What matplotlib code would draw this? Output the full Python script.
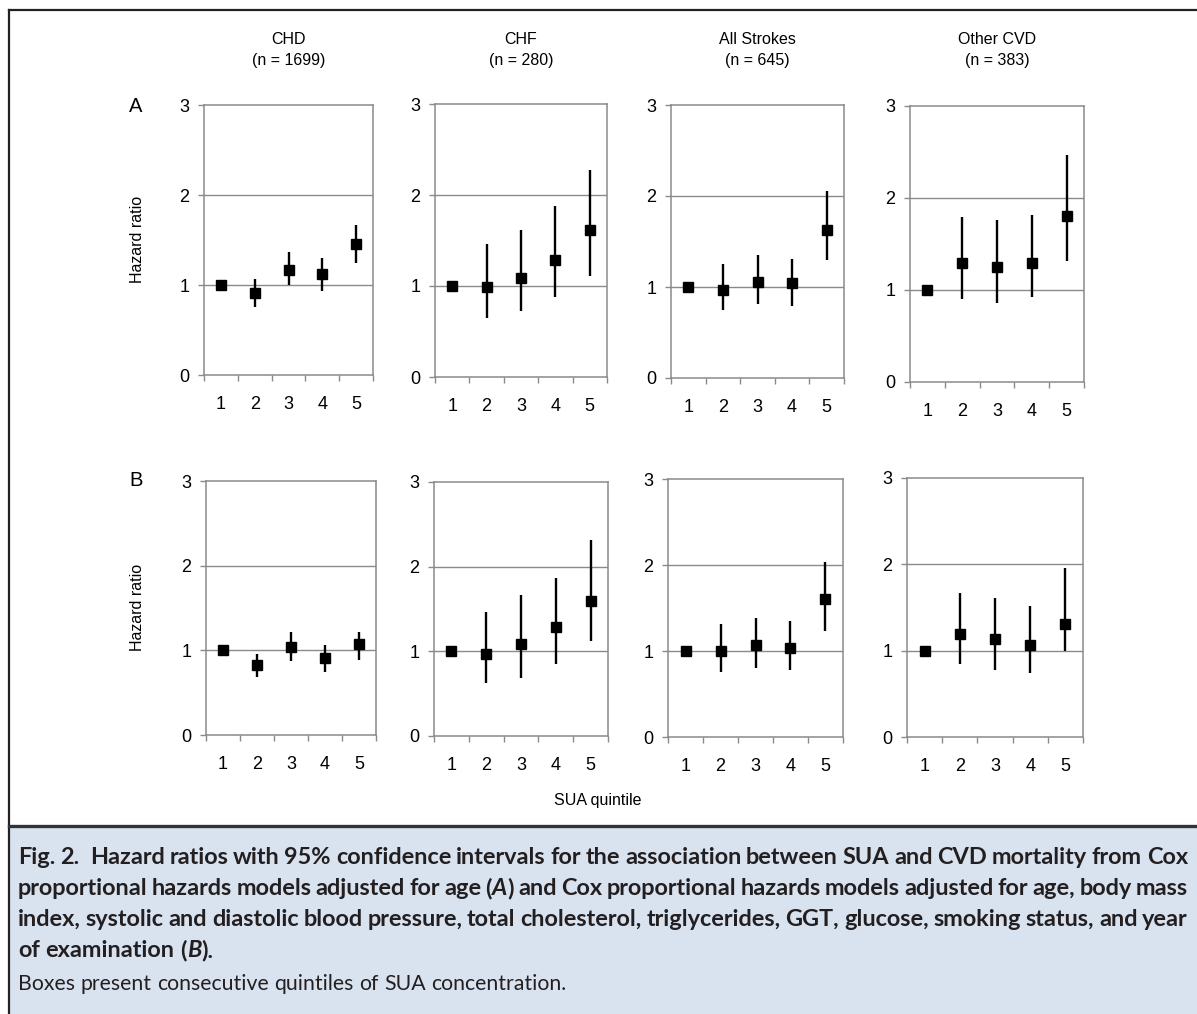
import matplotlib
matplotlib.use("Agg")
import matplotlib.pyplot as plt
from matplotlib.lines import Line2D
from matplotlib.patches import Rectangle

# ---------------- data ----------------
quintiles = [1, 2, 3, 4, 5]
outcomes = ["CHD", "CHF", "All Strokes", "Other CVD"]
n_cases = [1699, 280, 645, 383]
panel_labels = ["A", "B"]
y_ticks = [0, 1, 2, 3]

# Panel A (age adjusted)
hr_A_chd = [1.00, 0.91, 1.17, 1.12, 1.46]
lo_A_chd = [1.00, 0.76, 1.00, 0.93, 1.24]
hi_A_chd = [1.00, 1.07, 1.37, 1.30, 1.67]

hr_A_chf = [1.00, 0.99, 1.09, 1.29, 1.62]
lo_A_chf = [1.00, 0.65, 0.72, 0.88, 1.11]
hi_A_chf = [1.00, 1.46, 1.62, 1.88, 2.27]

hr_A_str = [1.00, 0.97, 1.06, 1.04, 1.63]
lo_A_str = [1.00, 0.75, 0.81, 0.79, 1.30]
hi_A_str = [1.00, 1.25, 1.35, 1.31, 2.05]

hr_A_oth = [1.00, 1.29, 1.25, 1.29, 1.80]
lo_A_oth = [1.00, 0.90, 0.86, 0.92, 1.31]
hi_A_oth = [1.00, 1.79, 1.76, 1.82, 2.47]

# Panel B (multivariable adjusted)
hr_B_chd = [1.00, 0.83, 1.04, 0.91, 1.07]
lo_B_chd = [1.00, 0.69, 0.87, 0.75, 0.89]
hi_B_chd = [1.00, 0.96, 1.22, 1.06, 1.22]

hr_B_chf = [1.00, 0.97, 1.09, 1.29, 1.60]
lo_B_chf = [1.00, 0.63, 0.68, 0.85, 1.12]
hi_B_chf = [1.00, 1.46, 1.66, 1.87, 2.31]

hr_B_str = [1.00, 1.00, 1.07, 1.03, 1.60]
lo_B_str = [1.00, 0.76, 0.80, 0.78, 1.23]
hi_B_str = [1.00, 1.31, 1.38, 1.35, 2.04]

hr_B_oth = [1.00, 1.19, 1.13, 1.07, 1.31]
lo_B_oth = [1.00, 0.84, 0.78, 0.74, 1.00]
hi_B_oth = [1.00, 1.67, 1.61, 1.52, 1.96]

x_label = "SUA quintile"
y_label = "Hazard ratio"

caption_lines = [
    "**Fig. 2.**  **Hazard ratios with 95% confidence intervals for the association between SUA and CVD mortality from Cox**",
    "**proportional hazards models adjusted for age (*A*) and Cox proportional hazards models adjusted for age, body mass**",
    "**index, systolic and diastolic blood pressure, total cholesterol, triglycerides, GGT, glucose, smoking status, and year**",
    "**of examination (*B*).**",
    "Boxes present consecutive quintiles of SUA concentration.",
]

series = {
    ("A", 0): (hr_A_chd, lo_A_chd, hi_A_chd),
    ("A", 1): (hr_A_chf, lo_A_chf, hi_A_chf),
    ("A", 2): (hr_A_str, lo_A_str, hi_A_str),
    ("A", 3): (hr_A_oth, lo_A_oth, hi_A_oth),
    ("B", 0): (hr_B_chd, lo_B_chd, hi_B_chd),
    ("B", 1): (hr_B_chf, lo_B_chf, hi_B_chf),
    ("B", 2): (hr_B_str, lo_B_str, hi_B_str),
    ("B", 3): (hr_B_oth, lo_B_oth, hi_B_oth),
}

# ---------------- layout ----------------
W, H = 1197, 1014
fig = plt.figure(figsize=(W / 100, H / 100), dpi=100)
fig.patch.set_facecolor("white")

FONT = ["Liberation Sans", "DejaVu Sans"]
CAPFONT = ["Lato", "Open Sans", "DejaVu Sans"]
GRAY = "#8a8a8a"

def fx(px):
    return px / W

def fy(py):
    return 1 - py / H

# (left, right, y at 0, y at 3) in pixels
boxes = {
    ("A", 0): (204, 373, 375, 105),
    ("A", 1): (435, 607, 377, 104),
    ("A", 2): (671, 844, 378, 105),
    ("A", 3): (910, 1084, 382, 106),
    ("B", 0): (206, 376, 735, 481),
    ("B", 1): (434, 608, 736, 482),
    ("B", 2): (668, 843, 737, 479),
    ("B", 3): (907, 1083, 737, 478),
}

for (p, j), (l, r, y0, y3) in boxes.items():
    ax = fig.add_axes([fx(l), fy(y0), (r - l) / W, (y0 - y3) / H])
    hr, lo, hi = series[(p, j)]
    ax.set_xlim(0.5, 5.5)
    ax.set_ylim(0, 3)
    for s in ax.spines.values():
        s.set_color(GRAY)
        s.set_linewidth(1.1)
    for yv in [1, 2]:
        ax.axhline(yv, color=GRAY, lw=1.0, zorder=1)
    ax.vlines(quintiles, lo, hi, color="black", lw=1.7, zorder=3)
    ax.plot(quintiles, hr, linestyle="none", marker="s", markersize=7.8,
            color="black", zorder=4)
    # ticks
    ax.set_xticks([q - 0.5 for q in quintiles] + [quintiles[-1] + 0.5])
    ax.set_xticklabels([])
    ax.set_xticks(quintiles, minor=True)
    ax.set_xticklabels([str(q) for q in quintiles], minor=True,
                       fontsize=13, family=FONT)
    ax.tick_params(axis="x", which="major", direction="out", length=4.5,
                   color=GRAY, width=1.0)
    ax.tick_params(axis="x", which="minor", length=0, pad=15)
    ax.set_yticks(y_ticks)
    ax.set_yticklabels([str(t) for t in y_ticks], fontsize=13, family=FONT)
    ax.tick_params(axis="y", direction="out", length=4.5, color=GRAY,
                   width=1.0, pad=6)
    # column titles
    if p == "A":
        cx = (l + r) / 2
        fig.text(fx(cx), fy(40), outcomes[j], ha="center", va="center",
                 fontsize=11.5, family=FONT)
        fig.text(fx(cx), fy(60), f"(n = {n_cases[j]})", ha="center",
                 va="center", fontsize=11.5, family=FONT)

# panel letters and axis labels
fig.text(fx(136), fy(107), panel_labels[0], ha="center", va="center",
         fontsize=14.5, family=FONT)
fig.text(fx(136), fy(481), panel_labels[1], ha="center", va="center",
         fontsize=14.5, family=FONT)
fig.text(fx(138), fy(239), y_label, rotation=90, ha="center", va="center",
         fontsize=11.5, family=FONT)
fig.text(fx(138), fy(607), y_label, rotation=90, ha="center", va="center",
         fontsize=11.5, family=FONT)
fig.text(fx(598), fy(800), x_label, ha="center", va="center",
         fontsize=11.5, family=FONT)

# frame and caption box
fig.add_artist(Rectangle((fx(9), 0), 1 - fx(9), fy(827), transform=fig.transFigure,
                         facecolor="#d9e3f0", edgecolor="none", zorder=0))
fig.add_artist(Line2D([fx(9), 1], [fy(10), fy(10)], color="#222222", lw=1.6))
fig.add_artist(Line2D([fx(9), fx(9)], [fy(10), 0], color="#222222", lw=1.6))
fig.add_artist(Line2D([fx(9), 1], [fy(826), fy(826)], color="#333333", lw=2.4))

# ---------------- caption with justification ----------------
fig.canvas.draw()
renderer = fig.canvas.get_renderer()

def parse_line(line):
    words = []
    bold = False
    ital = False
    for raw in line.split(" "):
        if raw == "":
            words.append(None)  # extra space marker
            continue
        segs = []
        buf = ""
        i = 0
        while i < len(raw):
            if raw.startswith("**", i):
                if buf:
                    segs.append((buf, bold, ital)); buf = ""
                bold = not bold; i += 2
            elif raw[i] == "*":
                if buf:
                    segs.append((buf, bold, ital)); buf = ""
                ital = not ital; i += 1
            else:
                buf += raw[i]; i += 1
        if buf:
            segs.append((buf, bold, ital))
        words.append(segs)
    return words

def seg_width(text, bold, ital, size):
    t = fig.text(0, 0, text, fontsize=size, family=CAPFONT,
                 fontweight="bold" if bold else "normal",
                 fontstyle="italic" if ital else "normal")
    w = t.get_window_extent(renderer=renderer).width
    t.remove()
    return w

def space_w(bold, size):
    return seg_width("a a", bold, False, size) - seg_width("aa", bold, False, size)

def natural_width(words, size, sp_scale=1.0):
    bold = any(b for w in words if w for _, b, _ in w)
    sp = space_w(bold, size) * sp_scale
    tot = 0
    n = 0
    for w in words:
        if w is None:
            tot += sp
            continue
        tot += sum(seg_width(s, b, it, size) for s, b, it in w)
        n += 1
    return tot + sp * (n - 1)

X0, X1 = 18, 1188
line_y = [864, 895, 926, 957, 990]
parsed = [parse_line(l) for l in caption_lines]

ref_size = 12.0
widest = max(natural_width(parsed[k], ref_size, 0.8) for k in range(3))
size_fit = ref_size * (X1 - X0) / widest
size_l4 = ref_size * 218 / natural_width(parsed[3], ref_size)
bold_size = min(size_fit, size_l4)
reg_size = ref_size * 545 / natural_width(parsed[4], ref_size)

for k, words in enumerate(parsed):
    justify = k < 3
    size = bold_size if k < 4 else reg_size
    bold_line = k < 4
    sp = space_w(bold_line, size)
    extra = 0
    items = []
    for w in words:
        if w is None:
            extra += sp
            continue
        items.append(w)
    wlist = [[seg_width(s, b, it, size) for s, b, it in w] for w in items]
    total = sum(sum(x) for x in wlist) + extra
    if justify and len(items) > 1:
        gap = (X1 - X0 - total) / (len(items) - 1)
    else:
        gap = sp
    x = X0
    for idx, (w, ws) in enumerate(zip(items, wlist)):
        for (s, b, it), sw in zip(w, ws):
            fig.text(fx(x), fy(line_y[k]), s, fontsize=size, family=CAPFONT,
                     fontweight="bold" if b else "normal",
                     fontstyle="italic" if it else "normal",
                     ha="left", va="baseline", color="#231f20")
            x += sw
        x += gap
        if k == 0 and idx == 1:
            x += sp

fig.savefig("out.png", dpi=100)
